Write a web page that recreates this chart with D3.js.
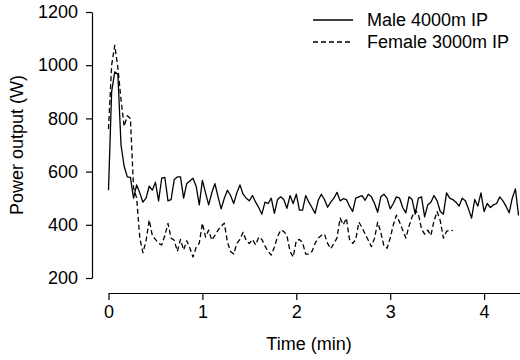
<!DOCTYPE html>
<html>
<head>
<meta charset="utf-8">
<script src="https://cdn.jsdelivr.net/npm/d3@7"></script>
<style>
  body { margin: 0; background: #fff; }
  svg { display: block; }
  text { font-family: "Liberation Sans", Arial, sans-serif; font-size: 18px; fill: #000; }
</style>
</head>
<body>
<div id="chart"></div>
<script>
// power samples, one every 2 s
const sampleSec = 2;
const maleWatts = [
  530, 900, 975, 965, 700, 620, 580, 578, 500, 550,
  520, 485, 500, 545, 530, 560, 490, 575, 578, 490,
  495, 570, 580, 580, 500, 555, 565, 575, 545, 475,
  567, 520, 475, 520, 555, 505, 460, 500, 530, 510,
  480, 520, 550, 515, 500, 490, 510, 485, 465, 440,
  485, 480, 500, 443, 495, 505, 495, 462, 510, 480,
  515, 455, 455, 510, 485, 465, 443, 492, 515, 495,
  466, 485, 500, 522, 490, 498, 495, 470, 450, 500,
  505, 510, 492, 515, 505, 480, 447, 505, 515, 500,
  460, 480, 505, 500, 465, 445, 505, 495, 440, 500,
  505, 430, 475, 485, 510, 490, 450, 440, 520, 500,
  495, 485, 470, 500, 490, 460, 425, 495, 470, 520,
  450, 480, 465, 475, 480, 505, 490, 470, 445, 500,
  535, 435
];
const femaleWatts = [
  760, 1000, 1075, 990, 870, 770, 810, 800, 540, 500,
  350, 295, 340, 418, 360, 345, 330, 324, 360, 405,
  350, 342, 300, 345, 305, 340, 312, 279, 315, 331,
  406, 354, 380, 342, 360, 380, 395, 406, 335, 300,
  290, 330, 345, 372, 340, 330, 345, 325, 354, 345,
  320, 300, 286, 316, 355, 380, 375, 360, 300, 279,
  340, 345, 333, 290, 290, 300, 330, 350, 360, 365,
  330, 310, 330, 350, 425, 400, 425, 345, 330, 345,
  410, 390, 365, 342, 318, 350, 410, 372, 320, 312,
  350, 400, 436, 410, 380, 350, 395, 430, 455, 440,
  385, 365, 380, 360, 415, 450, 415, 350, 375, 380,
  378
];
const seriesNames = ["Male 4000m IP", "Female 3000m IP"];
const xTicks = [0, 1, 2, 3, 4];
const yTicks = [200, 400, 600, 800, 1000, 1200];

const width = 520, height = 360;

const svg = d3.select("#chart").append("svg")
  .attr("width", width)
  .attr("height", height);

const x = d3.scaleLinear().domain([0, 5]).range([108.5, 578]);
const y = d3.scaleLinear().domain([200, 1200]).range([278, 12]);

const toPoints = arr => arr.map((w, i) => ({ t: i * sampleSec / 60, w: w }));
const series = [
  { name: seriesNames[0], dash: null, pts: toPoints(maleWatts) },
  { name: seriesNames[1], dash: "5,3", pts: toPoints(femaleWatts) }
];

// axes
const yAxis = d3.axisLeft(y).tickValues(yTicks).tickFormat(d3.format("d"))
  .tickSize(6).tickSizeOuter(0).tickPadding(8);
const xAxis = d3.axisBottom(x).tickValues(xTicks).tickFormat(d3.format("d"))
  .tickSize(7).tickSizeOuter(0).tickPadding(5);

const gy = svg.append("g").attr("transform", "translate(92,0)").call(yAxis);
const gx = svg.append("g").attr("transform", "translate(0,293)").call(xAxis);
[gx, gy].forEach(g => {
  g.selectAll("path, line").attr("stroke", "#000").attr("stroke-width", 1.2);
  g.selectAll("text").attr("font-size", 18).attr("font-family", null);
});

svg.append("text")
  .attr("transform", "translate(23,145) rotate(-90)")
  .attr("text-anchor", "middle")
  .text("Power output (W)");

svg.append("text")
  .attr("x", 309).attr("y", 350)
  .attr("text-anchor", "middle")
  .text("Time (min)");

// lines
const line = d3.line().x(d => x(d.t)).y(d => y(d.w));
svg.selectAll("path.series")
  .data(series)
  .enter()
  .append("path")
  .attr("class", "series")
  .attr("d", d => line(d.pts))
  .attr("fill", "none")
  .attr("stroke", "#000")
  .attr("stroke-width", 1.3)
  .attr("stroke-linejoin", "round")
  .attr("stroke-dasharray", d => d.dash);

// legend
const legend = svg.append("g").selectAll("g")
  .data(series)
  .enter()
  .append("g")
  .attr("transform", (d, i) => "translate(313," + (20 + i * 22) + ")");
legend.append("line")
  .attr("x1", 0).attr("x2", 40)
  .attr("stroke", "#000").attr("stroke-width", 1.3)
  .attr("stroke-dasharray", d => d.dash);
legend.append("text")
  .attr("x", 54).attr("dy", "0.35em")
  .text(d => d.name);
</script>
</body>
</html>
